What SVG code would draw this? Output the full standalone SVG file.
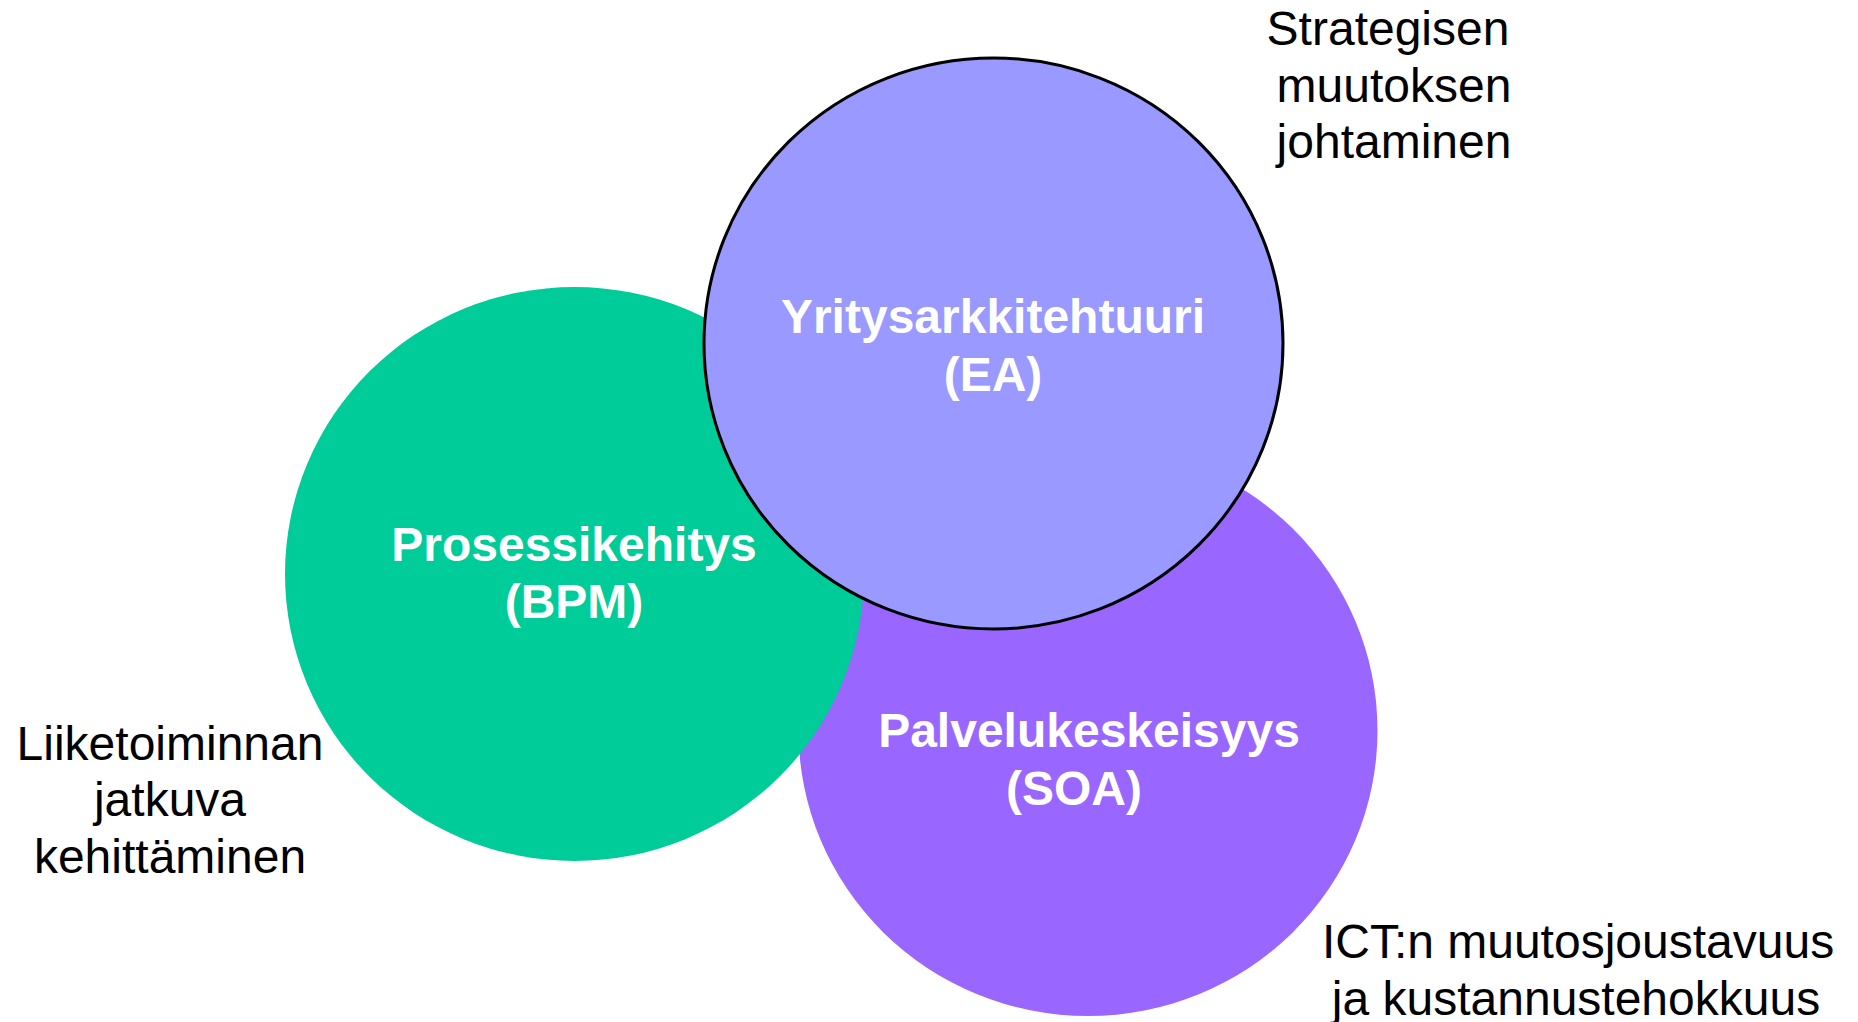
<svg xmlns="http://www.w3.org/2000/svg" width="1858" height="1022" viewBox="0 0 1858 1022">
<style>
.lbl{font-family:"Liberation Sans",Arial,sans-serif;font-size:48px;fill:#000;text-anchor:middle}
.in{font-family:"Liberation Sans",Arial,sans-serif;font-size:48px;font-weight:bold;fill:#fff;text-anchor:middle}
</style>
<rect width="1858" height="1022" fill="#fff"/>
<g id="soa">
<ellipse cx="1088" cy="730.5" rx="289.5" ry="285.5" fill="#9966FF"/>
</g>
<g id="bpm">
<ellipse cx="574.5" cy="574" rx="289.5" ry="287" fill="#00CC99"/>
</g>
<g id="ea">
<ellipse cx="993.5" cy="343.5" rx="289.5" ry="285.5" fill="#9999FF" stroke="#000" stroke-width="3"/>
</g>
<g id="labels">
<text class="in" x="993" y="333">Yritysarkkitehtuuri</text>
<text class="in" x="993" y="391">(EA)</text>
<text class="in" x="574" y="561">Prosessikehitys</text>
<text class="in" x="574" y="618">(BPM)</text>
<text class="in" x="1089" y="747">Palvelukeskeisyys</text>
<text class="in" x="1074" y="805">(SOA)</text>
<text class="lbl" x="1388" y="45">Strategisen</text>
<text class="lbl" x="1394" y="102">muutoksen</text>
<text class="lbl" x="1394" y="158">johtaminen</text>
<text class="lbl" x="170" y="760">Liiketoiminnan</text>
<text class="lbl" x="170" y="816">jatkuva</text>
<text class="lbl" x="170" y="873">kehittäminen</text>
<text class="lbl" x="1578" y="958">ICT:n muutosjoustavuus</text>
<text class="lbl" x="1576" y="1015">ja kustannustehokkuus</text>
</g>
<g id="connectors"/>
</svg>
